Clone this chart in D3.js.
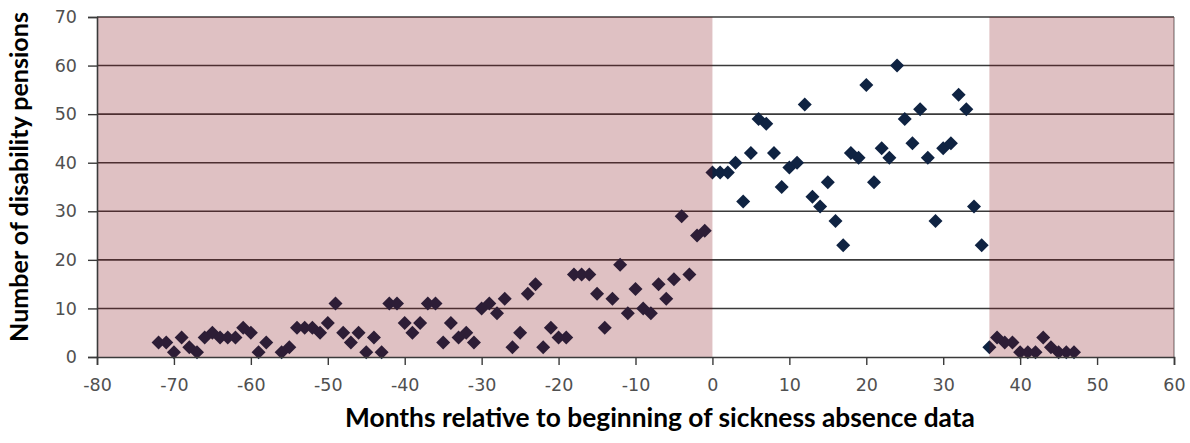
<!DOCTYPE html>
<html>
<head>
<meta charset="utf-8">
<title>Disability pensions by month</title>
<script src="https://d3js.org/d3.v7.min.js"></script>
<style>
  body { margin: 0; background: #fff; }
  .tick-label { font-family: "DejaVu Sans", Verdana, sans-serif; font-size: 17.5px; fill: #505050; }
  .axis-title { font-family: Lato, "Open Sans", sans-serif; font-weight: bold; fill: #000; }
</style>
</head>
<body>
<svg id="chart" width="1190" height="443"></svg>
<script>
// months relative to start of sickness absence data, and counts
var months = [-72, -71, -70, -69, -68, -67, -66, -65, -64, -63, -62, -61, -60, -59, -58, -56, -55, -54, -53, -52,
  -51, -50, -49, -48, -47, -46, -45, -44, -43, -42, -41, -40, -39, -38, -37, -36, -35, -34, -33, -32,
  -31, -30, -29, -28, -27, -26, -25, -24, -23, -22, -21, -20, -19, -18, -17, -16, -15, -14, -13, -12,
  -11, -10, -9, -8, -7, -6, -5, -4, -3, -2, -1,
  0, 1, 2, 3, 4, 5, 6, 7, 8, 9, 10, 11, 12, 13, 14, 15, 16, 17, 18, 19,
  20, 21, 22, 23, 24, 25, 26, 27, 28, 29, 30, 31, 32, 33, 34, 35,
  36, 37, 38, 39, 40, 41, 42, 43, 44, 45, 46, 47];
var pensions = [3, 3, 1, 4, 2, 1, 4, 5, 4, 4, 4, 6, 5, 1, 3, 1, 2, 6, 6, 6,
  5, 7, 11, 5, 3, 5, 1, 4, 1, 11, 11, 7, 5, 7, 11, 11, 3, 7, 4, 5,
  3, 10, 11, 9, 12, 2, 5, 13, 15, 2, 6, 4, 4, 17, 17, 17, 13, 6, 12, 19,
  9, 14, 10, 9, 15, 12, 16, 29, 17, 25, 26,
  38, 38, 38, 40, 32, 42, 49, 48, 42, 35, 39, 40, 52, 33, 31, 36, 28, 23, 42, 41,
  56, 36, 43, 41, 60, 49, 44, 51, 41, 28, 43, 44, 54, 51, 31, 23,
  2, 4, 3, 3, 1, 1, 1, 4, 2, 1, 1, 1];
// periods outside the sickness absence data window
var shadedStart = [-80, 36];
var shadedEnd = [0, 60];
var xTicks = d3.range(-80, 61, 10);
var yTicks = d3.range(0, 71, 10);

(function(){
var svg = d3.select("#chart");
var pl = 97, pr = 1174, pt = 17, pb = 357;

var x = d3.scaleLinear().domain([-80, 60]).range([pl, pr]);
var y = d3.scaleLinear().domain([0, 70]).range([pb, pt]);

// gridlines
svg.append("g").selectAll("line").data(yTicks.filter(function(d){ return d > 0; }))
  .enter().append("line")
  .attr("x1", pl).attr("x2", pr)
  .attr("y1", function(d){ return y(d); }).attr("y2", function(d){ return y(d); })
  .attr("stroke", "#3a3a3a").attr("stroke-width", 1.6);

// right border of plot area
svg.append("line").attr("x1", pr).attr("x2", pr).attr("y1", pt).attr("y2", pb)
  .attr("stroke", "#6a6a6a").attr("stroke-width", 1);

// markers
var diamond = "M0,-7L7,0L0,7L-7,0Z";
svg.append("g").selectAll("path").data(months)
  .enter().append("path")
  .attr("d", diamond)
  .attr("transform", function(d, i){ return "translate(" + x(d) + "," + y(pensions[i]) + ")"; })
  .attr("fill", "#0f2342");

// shaded periods, semi-transparent over grid and markers
svg.append("g").selectAll("rect").data(shadedStart)
  .enter().append("rect")
  .attr("x", function(d){ return x(d); })
  .attr("width", function(d, i){ return x(shadedEnd[i]) - x(d); })
  .attr("y", pt).attr("height", pb - pt)
  .attr("fill", "rgb(133,15,23)").attr("fill-opacity", 0.26);

// axes
var yAxis = svg.append("g").attr("transform", "translate(" + pl + ",0)")
  .call(d3.axisLeft(y).tickValues(yTicks).tickSize(9).tickPadding(11).tickFormat(d3.format("d")));
var xAxis = svg.append("g").attr("transform", "translate(0," + pb + ")")
  .call(d3.axisBottom(x).tickValues(xTicks).tickSize(8).tickPadding(14).tickFormat(d3.format("d")));
[yAxis, xAxis].forEach(function(a){
  a.select(".domain").attr("stroke", "#3a3a3a").attr("stroke-width", 1.6);
  a.selectAll(".tick line").attr("stroke", "#3a3a3a").attr("stroke-width", 1.4);
  a.selectAll(".tick text").attr("class", "tick-label").attr("font-family", null).attr("font-size", null)
    .text(function(d){ return d < 0 ? "-" + Math.abs(d) : d; });
});

// axis titles, sized to the reference width
function fit(t, w, size){
  t.style("font-size", size + "px");
  var len = t.node().getComputedTextLength();
  t.style("font-size", (size * w / len).toFixed(2) + "px");
}
var xt = svg.append("text").attr("class", "axis-title")
  .attr("x", 660).attr("y", 427).attr("text-anchor", "middle")
  .text("Months relative to beginning of sickness absence data");
fit(xt, 630, 19);
var yt = svg.append("text").attr("class", "axis-title")
  .attr("transform", "translate(28,177) rotate(-90)").attr("text-anchor", "middle")
  .text("Number of disability pensions");
fit(yt, 330, 19);
})();
</script>
</body>
</html>
